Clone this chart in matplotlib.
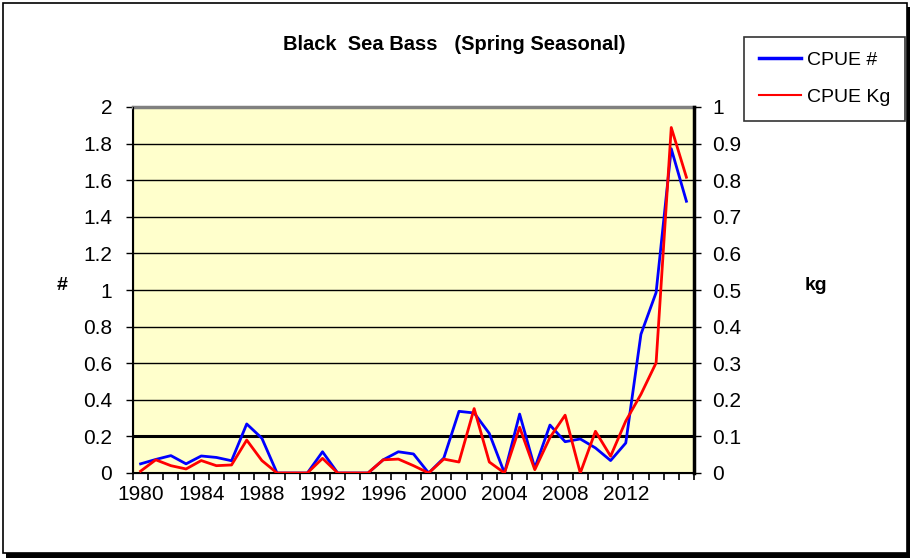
import numpy as np
import matplotlib
matplotlib.use('Agg')
import matplotlib.pyplot as plt
from matplotlib.patches import Rectangle
from matplotlib.lines import Line2D

plt.rcParams['font.family'] = ['Liberation Sans', 'DejaVu Sans']

years = list(range(1980, 2017))
cpue_n = [0.05, 0.074, 0.095, 0.05, 0.093, 0.085, 0.067, 0.268, 0.19,
          0, 0, 0, 0.116, 0, 0, 0,
          0.072, 0.116, 0.104, 0.0, 0.082, 0.337, 0.328, 0.216, 0, 0.322,
          0.027, 0.262, 0.171, 0.186, 0.137, 0.068, 0.164, 0.758, 0.986,
          1.772, 1.485]
cpue_kg = [0.005, 0.036, 0.02, 0.011, 0.034, 0.02, 0.022, 0.09, 0.034,
           0, 0, 0, 0.04, 0, 0, 0,
           0.036, 0.038, 0.02, 0.0, 0.038, 0.03, 0.176, 0.03, 0, 0.125,
           0.009, 0.097, 0.158, 0.0, 0.114, 0.046, 0.142, 0.215, 0.301,
           0.944, 0.808]
label_years = list(range(1980, 2013, 4))

fig = plt.figure(figsize=(9.14, 5.58), dpi=100)

# outer frame with drop shadow
fig.patches.append(Rectangle((6/914, 0), 904/914, 551/558, transform=fig.transFigure,
                             facecolor='black', edgecolor='none', zorder=-2))
fig.patches.append(Rectangle((3/914, 5/558), 904/914, 550/558, transform=fig.transFigure,
                             facecolor='white', edgecolor='black', linewidth=1.2, zorder=-1))

ax = fig.add_axes([133/914, 1 - 473/558, (694 - 133)/914, (473 - 107)/558])
ax.set_facecolor('#FFFFCC')
x = np.arange(len(years))

for v in np.arange(0.2, 2.0, 0.2):
    ax.axhline(v, color='black', linewidth=2.2 if abs(v - 0.2) < 1e-6 else 1.0, zorder=1)

ax.plot(x, cpue_n, color='#0000FF', linewidth=2, zorder=3)
ax.set_xlim(-0.5, len(years) - 0.5)
ax.set_ylim(0, 2)
ax.set_yticks(np.arange(0, 2.01, 0.2))
ax.set_yticklabels(['0', '0.2', '0.4', '0.6', '0.8', '1', '1.2', '1.4', '1.6', '1.8', '2'])
ax.set_xticks([years.index(y) for y in label_years])
ax.set_xticklabels([str(y) for y in label_years])
ax.set_xticks(np.arange(-0.5, len(years), 1), minor=True)
ax.tick_params(axis='x', which='major', length=0, pad=9, labelsize=15)
ax.tick_params(axis='x', which='minor', length=5, width=1.2, direction='out')
ax.tick_params(axis='y', length=5, width=1, labelsize=15, pad=10)
ax.spines['top'].set_color('#808080')
ax.spines['top'].set_linewidth(2.5)
ax.spines['left'].set_linewidth(1.5)
ax.spines['bottom'].set_linewidth(1.5)
ax.spines['right'].set_visible(False)

ax2 = ax.twinx()
ax2.plot(x, cpue_kg, color='#FF0000', linewidth=2, zorder=3)
ax2.set_ylim(0, 1)
ax2.set_yticks(np.arange(0, 1.01, 0.1))
ax2.set_yticklabels(['0', '0.1', '0.2', '0.3', '0.4', '0.5', '0.6', '0.7', '0.8', '0.9', '1'])
ax2.tick_params(axis='y', length=5, width=1, labelsize=15, pad=8)
ax2.spines['right'].set_linewidth(2.5)
ax2.spines['top'].set_visible(False)

fig.text(62/914, 1 - 286/558, '#', ha='center', va='center', fontsize=14, fontweight='bold')
fig.text(816/914, 1 - 286/558, 'kg', ha='center', va='center', fontsize=14, fontweight='bold')

fig.text(454/914, 1 - 44/558, 'Black  Sea Bass   (Spring Seasonal)', ha='center', va='center',
         fontsize=14.5, fontweight='bold')

handles = [Line2D([], [], color='#0000FF', linewidth=2.5),
           Line2D([], [], color='#FF0000', linewidth=1.5)]
leg = fig.legend(handles, ['CPUE #', 'CPUE Kg'], loc='upper left',
                 bbox_to_anchor=(744/914, 1 - 37/558), fontsize=14, frameon=True,
                 fancybox=False, edgecolor='black', handlelength=2.2, handletextpad=0.3,
                 labelspacing=1.0, borderpad=0.75, borderaxespad=0)
leg.get_frame().set_linewidth(1.2)

fig.savefig('out.png', dpi=100)
